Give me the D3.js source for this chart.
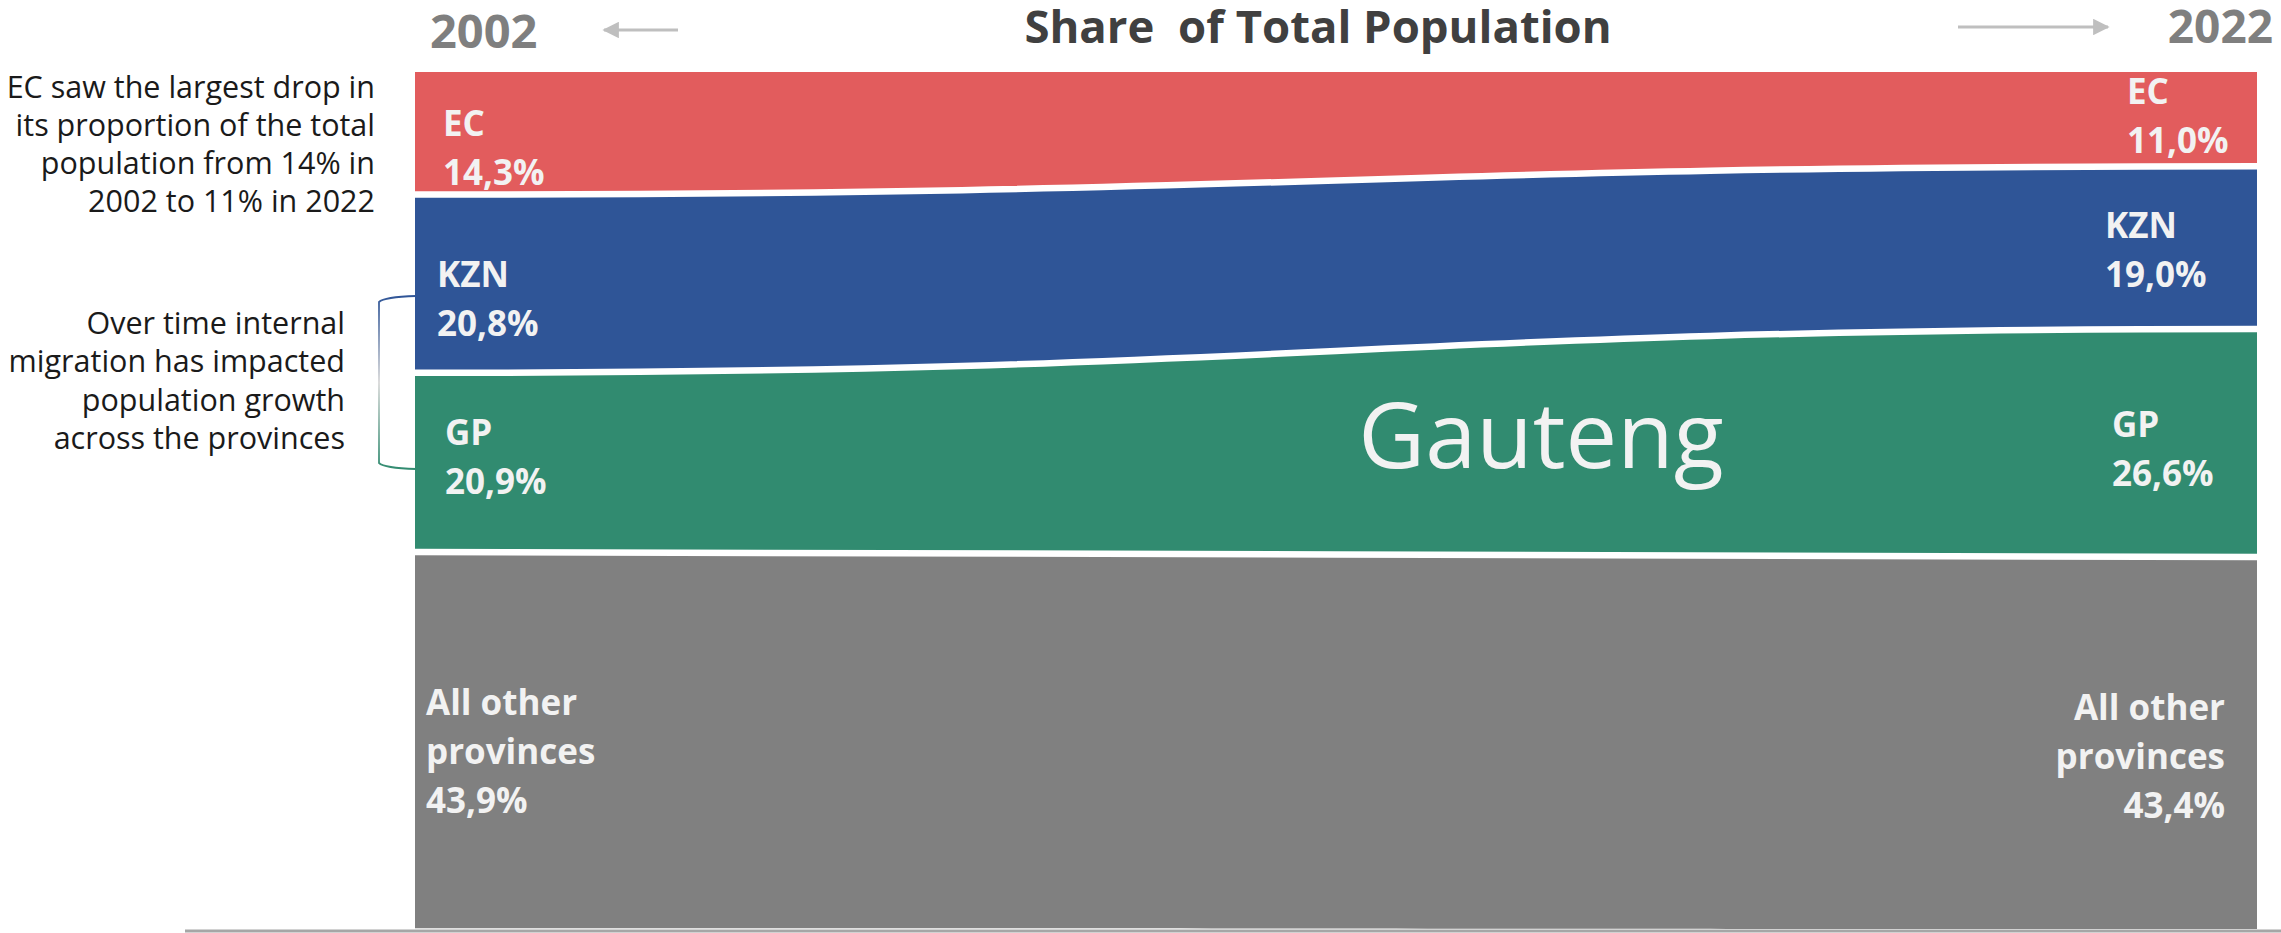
<!DOCTYPE html>
<html>
<head>
<meta charset="utf-8">
<script src="https://cdn.jsdelivr.net/npm/d3@7"></script>
<style>
  html, body { margin: 0; padding: 0; background: #ffffff; }
  svg { display: block; }
  text { font-family: "Open Sans", "Noto Sans", sans-serif; }
</style>
</head>
<body>
<svg id="chart" width="2281" height="933"></svg>
<script>
// ---------------- DATA ----------------
const years = [2002, 2022];
const provinces = ["EC", "KZN", "GP", "Other"];
const ecShare = [14.3, 11.0];
const kznShare = [20.8, 19.0];
const gpShare = [20.9, 26.6];
const otherShare = [43.9, 43.4];
const provinceLabels = ["EC", "KZN", "GP", "All other provinces"];
const titleText = "Share  of Total Population";
const highlightText = "Gauteng";
const noteEC = ["EC saw the largest drop in", "its proportion of the total", "population from 14% in", "2002 to 11% in 2022"];
const noteMigration = ["Over time internal", "migration has impacted", "population growth", "across the provinces"];

// ---------------- STYLE ----------------
const colors = { EC: "#E25C5D", KZN: "#2F5597", GP: "#318B70", Other: "#808080" };
const W = 2281, H = 933;
const plot = { left: 415, right: 2257, top: 72, bottom: 929 };

const rows = years.map((yr, i) => ({
  year: yr, EC: ecShare[i], KZN: kznShare[i], GP: gpShare[i], Other: otherShare[i]
}));

const svg = d3.select("#chart");

const x = d3.scaleLinear().domain(d3.extent(years)).range([plot.left, plot.right]);
const y = d3.scaleLinear().domain([0, 100]).range([plot.top, plot.bottom]);

const series = d3.stack().keys(provinces)(rows);

const area = d3.area()
  .x(d => x(d.data.year))
  .y0(d => y(d[0]))
  .y1(d => y(d[1]))
  .curve(d3.curveBumpX);

svg.append("g").selectAll("path")
  .data(series)
  .join("path")
  .attr("d", area)
  .attr("fill", d => colors[d.key]);

// white separators between bands
const sepLine = d3.line()
  .x(d => x(d.data.year))
  .y(d => y(d[1]))
  .curve(d3.curveBumpX);

svg.append("g").selectAll("path")
  .data(series.slice(0, series.length - 1))
  .join("path")
  .attr("d", sepLine)
  .attr("fill", "none")
  .attr("stroke", "#ffffff")
  .attr("stroke-width", 6.5);

// baseline
svg.append("line")
  .attr("x1", 185).attr("x2", W)
  .attr("y1", plot.bottom + 2).attr("y2", plot.bottom + 2)
  .attr("stroke", "#A6A6A6").attr("stroke-width", 3);

// ---------------- TITLE & YEAR HEADERS ----------------
svg.append("text")
  .attr("x", 1318).attr("y", 43)
  .attr("text-anchor", "middle")
  .style("white-space", "pre")
  .attr("font-size", 45.5).attr("font-weight", 700)
  .attr("fill", "#404040")
  .text(titleText);

svg.append("text")
  .attr("x", 430).attr("y", 48)
  .attr("font-size", 47).attr("font-weight", 700)
  .attr("fill", "#7F7F7F")
  .text(years[0]);

svg.append("text")
  .attr("x", 2273).attr("y", 43)
  .attr("text-anchor", "end")
  .attr("font-size", 46).attr("font-weight", 700)
  .attr("fill", "#7F7F7F")
  .text(years[1]);

// arrows
const defs = svg.append("defs");
defs.append("marker")
  .attr("id", "arrowHead")
  .attr("viewBox", "0 0 10 10")
  .attr("refX", 9).attr("refY", 5)
  .attr("markerWidth", 5.5).attr("markerHeight", 5.5)
  .attr("markerUnits", "strokeWidth")
  .attr("orient", "auto")
  .append("path")
  .attr("d", "M0,0 L10,5 L0,10 Z")
  .attr("fill", "#BFBFBF");

svg.append("line")
  .attr("x1", 678).attr("y1", 30).attr("x2", 604).attr("y2", 30)
  .attr("stroke", "#BFBFBF").attr("stroke-width", 3)
  .attr("marker-end", "url(#arrowHead)");

svg.append("line")
  .attr("x1", 1958).attr("y1", 27).attr("x2", 2108).attr("y2", 27)
  .attr("stroke", "#BFBFBF").attr("stroke-width", 3)
  .attr("marker-end", "url(#arrowHead)");

// ---------------- BAND LABELS ----------------
const fmt = v => d3.format(".1f")(v).replace(".", ",") + "%";
const labelColor = "#F2F2F2";
const lineGap = 49;

// per-label placement offsets (relative to band middle)
const leftLabelX = [443, 437, 445, 426];
const leftLabelDy = [3, 3, -17, -25];
const rightLabelX = [2127, 2105, 2112, 2225];
const rightLabelDy = [-15, -10, -6, -23];

function labelLines(i, v) {
  const name = provinceLabels[i];
  const parts = name === "All other provinces" ? ["All other", "provinces"] : [name];
  return parts.concat([fmt(v)]);
}

series.forEach((s, i) => {
  // left (2002)
  const dl = s[0];
  const midL = (y(dl[0]) + y(dl[1])) / 2;
  const tL = svg.append("text")
    .attr("font-size", 35).attr("font-weight", 700)
    .attr("fill", labelColor)
    .attr("text-anchor", "start");
  labelLines(i, dl[1] - dl[0]).forEach((ln, k) => {
    tL.append("tspan")
      .attr("x", leftLabelX[i])
      .attr("y", midL + leftLabelDy[i] + k * lineGap)
      .text(ln);
  });
  // right (2022)
  const dr = s[s.length - 1];
  const midR = (y(dr[0]) + y(dr[1])) / 2;
  const tR = svg.append("text")
    .attr("font-size", 35).attr("font-weight", 700)
    .attr("fill", labelColor)
    .attr("text-anchor", i === 3 ? "end" : "start");
  labelLines(i, dr[1] - dr[0]).forEach((ln, k) => {
    tR.append("tspan")
      .attr("x", rightLabelX[i])
      .attr("y", midR + rightLabelDy[i] + k * lineGap)
      .text(ln);
  });
});

// big Gauteng label
svg.append("text")
  .attr("x", 1541).attr("y", 468)
  .attr("text-anchor", "middle")
  .attr("font-size", 92).attr("font-weight", 400)
  .attr("fill", labelColor)
  .text(highlightText);

// ---------------- ANNOTATIONS ----------------
const n1 = svg.append("text")
  .attr("font-size", 30.5).attr("fill", "#1A1A1A").attr("text-anchor", "end");
noteEC.forEach((ln, k) => {
  n1.append("tspan").attr("x", 375).attr("y", 98 + k * 38).text(ln);
});

const n2 = svg.append("text")
  .attr("font-size", 30.5).attr("fill", "#1A1A1A").attr("text-anchor", "end");
noteMigration.forEach((ln, k) => {
  n2.append("tspan").attr("x", 345).attr("y", 334 + k * 38.3).text(ln);
});

// bracket
const grad = defs.append("linearGradient")
  .attr("id", "bracketGrad")
  .attr("gradientUnits", "userSpaceOnUse")
  .attr("x1", 0).attr("y1", 296).attr("x2", 0).attr("y2", 469);
grad.append("stop").attr("offset", "0%").attr("stop-color", colors.KZN);
grad.append("stop").attr("offset", "50%").attr("stop-color", "#D9D9D9");
grad.append("stop").attr("offset", "100%").attr("stop-color", colors.GP);

svg.append("path")
  .attr("d", "M416,296 Q384,297 379,302 L379,463 Q384,468 416,469")
  .attr("fill", "none")
  .attr("stroke", "url(#bracketGrad)")
  .attr("stroke-width", 1.8);
</script>
</body>
</html>
